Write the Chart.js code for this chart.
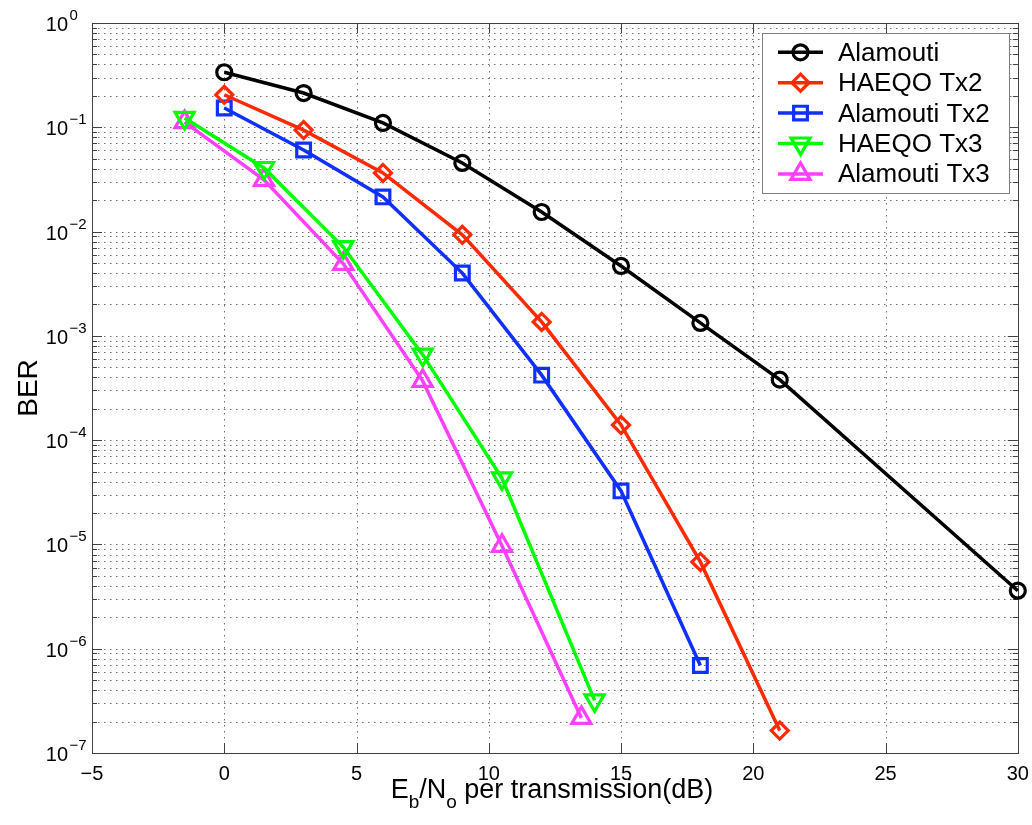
<!DOCTYPE html>
<html lang="en">
<head>
  <meta charset="UTF-8">
  <title>BER vs Eb/No</title>
  <script src="https://cdn.jsdelivr.net/npm/chart.js"></script>
  <style>
    body { margin: 0; background: #fff; }
    canvas { display: block; }
  </style>
</head>
<body>
  <canvas id="berChart" width="1032" height="825"></canvas>

  <script>
    // values
    const snrAlamouti = [0, 3, 6, 9, 12, 15, 18, 21, 30];
    const berAlamouti = [0.337, 0.213, 0.110, 0.0455, 0.0154, 0.00468, 1.33e-3, 3.8e-4, 3.6e-6];

    const snrHaeqoTx2 = [0, 3, 6, 9, 12, 15, 18, 21];
    const berHaeqoTx2 = [0.205, 0.094, 0.0365, 0.0093, 1.36e-3, 1.40e-4, 6.8e-6, 1.64e-7];

    const snrAlamoutiTx2 = [0, 3, 6, 9, 12, 15, 18];
    const berAlamoutiTx2 = [0.153, 0.0606, 0.0215, 4.0e-3, 4.2e-4, 3.26e-5, 6.9e-7];

    const snrHaeqoTx3 = [-1.5, 1.5, 4.5, 7.5, 10.5, 14];
    const berHaeqoTx3 = [0.123, 0.0407, 7.1e-3, 6.6e-4, 4.3e-5, 3.2e-7];

    const snrAlamoutiTx3 = [-1.5, 1.5, 4.5, 7.5, 10.5, 13.5];
    const berAlamoutiTx3 = [0.112, 0.0313, 4.9e-3, 3.7e-4, 9.7e-6, 2.17e-7];

    const seriesNames = ['Alamouti', 'HAEQO Tx2', 'Alamouti Tx2', 'HAEQO Tx3', 'Alamouti Tx3'];
    const xTicks = [-5, 0, 5, 10, 15, 20, 25, 30];
    const yExponents = [0, -1, -2, -3, -4, -5, -6, -7];

    const FONT = '"Liberation Sans", Arial, Helvetica, sans-serif';

    function toPoints(xs, ys) {
      return xs.map((x, i) => ({ x: x, y: ys[i] }));
    }

    function series(label, xs, ys, color, style, radius, rotation) {
      return {
        label: label,
        data: toPoints(xs, ys),
        borderColor: color,
        borderWidth: 3.5,
        pointStyle: style,
        pointRadius: radius,
        pointRotation: rotation || 0,
        pointBorderColor: color,
        pointBorderWidth: 3.2,
        pointBackgroundColor: 'rgba(0,0,0,0)',
        tension: 0,
        clip: false
      };
    }

    const datasets = [
      series(seriesNames[0], snrAlamouti, berAlamouti, '#000000', 'circle', 7.5),
      series(seriesNames[1], snrHaeqoTx2, berHaeqoTx2, '#ff2a00', 'rectRot', 8.5),
      series(seriesNames[2], snrAlamoutiTx2, berAlamoutiTx2, '#1030ff', 'rect', 9.7),
      series(seriesNames[3], snrHaeqoTx3, berHaeqoTx3, '#00ff00', 'triangle', 11, 180),
      series(seriesNames[4], snrAlamoutiTx3, berAlamoutiTx3, '#ff40ff', 'triangle', 11)
    ];

    // MATLAB-like axes: dotted grid, inward ticks, box, superscript labels
    const matlabAxes = {
      id: 'matlabAxes',
      beforeDraw(chart) {
        const ctx = chart.ctx;
        ctx.save();
        ctx.fillStyle = '#fff';
        ctx.fillRect(0, 0, chart.width, chart.height);
        ctx.restore();
      },
      beforeDatasetsDraw(chart) {
        const ctx = chart.ctx;
        const a = chart.chartArea;
        const xs = chart.scales.x, ys = chart.scales.y;

        ctx.save();
        ctx.lineWidth = 1;
        ctx.strokeStyle = '#6e6e6e';
        ctx.setLineDash([1.5, 4.5]);

        // y grid: majors and minors per decade
        const yVals = [1];
        for (let e = -7; e <= -1; e++) {
          for (let m = 1; m <= 9; m++) yVals.push(m * Math.pow(10, e));
        }
        yVals.forEach(v => {
          const py = Math.round(ys.getPixelForValue(v)) + 0.5;
          ctx.beginPath();
          ctx.moveTo(a.left, py);
          ctx.lineTo(a.right, py);
          ctx.stroke();
        });
        xTicks.forEach(v => {
          const px = Math.round(xs.getPixelForValue(v)) + 0.5;
          ctx.beginPath();
          ctx.moveTo(px, a.top);
          ctx.lineTo(px, a.bottom);
          ctx.stroke();
        });

        // inward ticks
        ctx.setLineDash([]);
        ctx.strokeStyle = '#404040';
        yVals.forEach(v => {
          const py = Math.round(ys.getPixelForValue(v)) + 0.5;
          const major = Math.abs(Math.log10(v) - Math.round(Math.log10(v))) < 1e-9;
          const len = major ? 10 : 5;
          ctx.beginPath();
          ctx.moveTo(a.left, py); ctx.lineTo(a.left + len, py);
          ctx.moveTo(a.right, py); ctx.lineTo(a.right - len, py);
          ctx.stroke();
        });
        xTicks.forEach(v => {
          const px = Math.round(xs.getPixelForValue(v)) + 0.5;
          ctx.beginPath();
          ctx.moveTo(px, a.bottom); ctx.lineTo(px, a.bottom - 10);
          ctx.moveTo(px, a.top); ctx.lineTo(px, a.top + 10);
          ctx.stroke();
        });

        // box
        ctx.strokeRect(Math.round(a.left) + 0.5, Math.round(a.top) + 0.5,
                       Math.round(a.right - a.left), Math.round(a.bottom - a.top));

        // x tick labels
        ctx.fillStyle = '#000';
        ctx.font = '20px ' + FONT;
        ctx.textAlign = 'center';
        ctx.textBaseline = 'alphabetic';
        xTicks.forEach(v => {
          ctx.fillText(String(v).replace('-', '\u2212'), xs.getPixelForValue(v), a.bottom + 27);
        });

        // y tick labels 10^n
        yExponents.forEach(e => {
          const py = ys.getPixelForValue(Math.pow(10, e));
          ctx.font = '20px ' + FONT;
          ctx.textAlign = 'right';
          ctx.fillText('10', a.left - 24, py + 8);
          ctx.font = '15px ' + FONT;
          ctx.textAlign = 'left';
          ctx.fillText(String(e).replace('-', '\u2212'), a.left - 22.5, py - 3);
        });

        // y title
        ctx.save();
        ctx.translate(37, (a.top + a.bottom) / 2);
        ctx.rotate(-Math.PI / 2);
        ctx.font = '28px ' + FONT;
        ctx.textAlign = 'center';
        ctx.fillText('BER', 0, 0);
        ctx.restore();

        // x title with subscripts: E_b/N_o per transmission(dB)
        const parts = [
          ['E', 27, 0], ['b', 19, 10], ['/N', 27, 0], ['o', 19, 10], [' per transmission(dB)', 27, 0]
        ];
        let total = 0;
        parts.forEach(p => { ctx.font = p[1] + 'px ' + FONT; total += ctx.measureText(p[0]).width; });
        let cx = 552 - total / 2;
        ctx.textAlign = 'left';
        parts.forEach(p => {
          ctx.font = p[1] + 'px ' + FONT;
          ctx.fillText(p[0], cx, 798 + p[2]);
          cx += ctx.measureText(p[0]).width;
        });

        ctx.restore();
      },
      afterDatasetsDraw(chart) {
        const ctx = chart.ctx;
        ctx.save();
        // legend box
        ctx.fillStyle = '#fff';
        ctx.fillRect(762, 33, 247, 160);
        ctx.strokeStyle = '#808080';
        ctx.lineWidth = 1;
        ctx.strokeRect(762.5, 33.5, 247, 160);

        chart.data.datasets.forEach((ds, i) => {
          const y = 52.3 + i * 30.4;
          ctx.strokeStyle = ds.borderColor;
          ctx.lineWidth = ds.borderWidth;
          ctx.beginPath();
          ctx.moveTo(778, y);
          ctx.lineTo(823, y);
          ctx.stroke();
          drawMarker(ctx, ds, 800.5, y);
          ctx.fillStyle = '#000';
          ctx.font = '26px ' + FONT;
          ctx.textAlign = 'left';
          ctx.textBaseline = 'alphabetic';
          ctx.fillText(ds.label, 838, y + 8.5);
        });
        ctx.restore();
      }
    };

    function drawMarker(ctx, ds, x, y) {
      const r = ds.pointRadius;
      ctx.save();
      ctx.strokeStyle = ds.pointBorderColor;
      ctx.lineWidth = ds.pointBorderWidth;
      ctx.beginPath();
      if (ds.pointStyle === 'circle') {
        ctx.arc(x, y, r, 0, Math.PI * 2);
      } else if (ds.pointStyle === 'rectRot') {
        ctx.moveTo(x, y - r); ctx.lineTo(x + r, y); ctx.lineTo(x, y + r); ctx.lineTo(x - r, y);
        ctx.closePath();
      } else if (ds.pointStyle === 'rect') {
        const h = r * Math.SQRT1_2;
        ctx.rect(x - h, y - h, 2 * h, 2 * h);
      } else {
        const rot = (ds.pointRotation || 0) * Math.PI / 180;
        for (let k = 0; k < 3; k++) {
          const ang = rot + k * 2 * Math.PI / 3;
          const px = x + Math.sin(ang) * r, py = y - Math.cos(ang) * r;
          if (k === 0) ctx.moveTo(px, py); else ctx.lineTo(px, py);
        }
        ctx.closePath();
      }
      ctx.stroke();
      ctx.restore();
    }

    const ctx = document.getElementById('berChart').getContext('2d');
    const berChart = new Chart(ctx, {
      type: 'line',
      data: { datasets: datasets },
      options: {
        responsive: false,
        devicePixelRatio: 1,
        animation: false,
        layout: { padding: { left: 92, right: 12, top: 23, bottom: 72 } },
        plugins: { legend: { display: false }, tooltip: { enabled: false } },
        scales: {
          x: { type: 'linear', min: -5, max: 30, display: false },
          y: { type: 'logarithmic', min: 1e-7, max: 1, display: false }
        }
      },
      plugins: [matlabAxes]
    });
  </script>
</body>
</html>
